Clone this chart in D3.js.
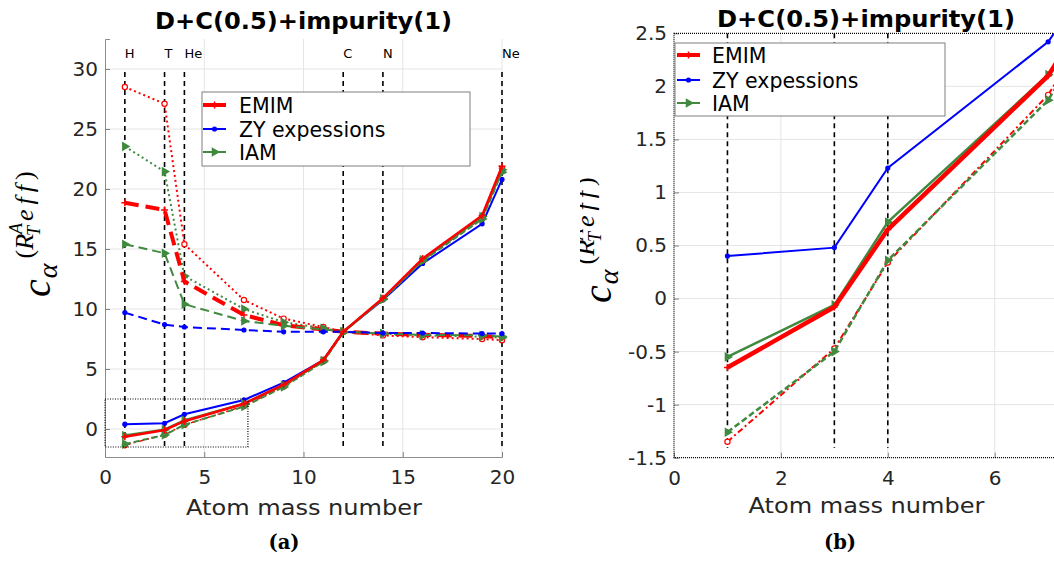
<!DOCTYPE html>
<html lang="en">
<head>
<meta charset="UTF-8">
<title>D+C(0.5)+impurity(1)</title>
<script src="https://cdnjs.cloudflare.com/ajax/libs/d3/7.8.5/d3.min.js"></script>
<style>
  body { margin: 0; background: #fff; }
  svg text { font-family: "DejaVu Sans", sans-serif; fill: #262626; }
</style>
</head>
<body>
<svg id="chart" width="1054" height="562"></svg>
<script>
// atom mass numbers of the impurities
var massNumbers = [1, 3, 4, 7, 9, 11, 12, 14, 16, 19, 20];
var elementLines = [1, 3, 4, 12, 14, 20];
var elementNames = ['H', 'T', 'He', 'C', 'N', 'Ne'];

// lower (increasing) curves
var emimSolid    = [-0.65, -0.08, 0.65, 2.10, 3.70, 5.75, 8.10, 10.90, 14.20, 17.80, 21.90];
var iamSolid     = [-0.55, -0.06, 0.72, 2.11, 3.65, 5.70, 8.10, 10.85, 14.10, 17.70, 21.60];
var zySolid      = [0.40, 0.48, 1.23, 2.42, 3.86, 5.75, 8.10, 10.75, 13.80, 17.10, 20.80];
var emimDashDot  = [-1.35, -0.47, 0.34, 1.92, 3.55, 5.65, 8.10, 10.85, 14.05, 17.60, 21.70];
var iamDashDot   = [-1.26, -0.50, 0.36, 1.87, 3.50, 5.60, 8.05, 10.80, 14.00, 17.50, 21.40];

// upper (decreasing) curves
var emimDashed   = [18.85, 18.25, 12.30, 9.50, 8.65, 8.30, 8.10, 7.95, 7.85, 7.75, 7.65];
var iamDashed    = [15.40, 14.65, 10.40, 9.00, 8.60, 8.30, 8.10, 7.95, 7.85, 7.80, 7.70];
var zyDashed     = [9.70, 8.70, 8.50, 8.25, 8.10, 8.10, 8.10, 8.00, 8.00, 7.95, 7.95];
var emimDotted   = [28.50, 27.10, 15.40, 10.75, 9.20, 8.50, 8.10, 7.80, 7.65, 7.50, 7.40];
var iamDotted    = [23.55, 21.45, 12.75, 10.00, 8.90, 8.40, 8.10, 7.95, 7.80, 7.70, 7.60];

var legendNames = ['EMIM', 'ZY expessions', 'IAM'];
var leftYTicks = [0, 5, 10, 15, 20, 25, 30];
var leftXTicks = [0, 5, 10, 15, 20];
var rightYTicks = [-1.5, -1, -0.5, 0, 0.5, 1, 1.5, 2, 2.5];
var rightXTicks = [0, 2, 4, 6];

var RED = '#ff0000', BLUE = '#0000ff', GREEN = '#3f8a3f';

var series = [
  { values: emimDotted,  color: RED,   w: 2,   wR: 2,   dash: '2,3',       marker: 'circle' },
  { values: iamDotted,   color: GREEN, w: 2,   wR: 2,   dash: '2,3',       marker: 'tri' },
  { values: emimDashed,  color: RED,   w: 4,   wR: 4,   dash: '14,7',      marker: 'plus' },
  { values: iamDashed,   color: GREEN, w: 2,   wR: 2,   dash: '9,5',       marker: 'tri' },
  { values: zyDashed,    color: BLUE,  w: 2,   wR: 2,   dash: '9,5',       marker: 'dot' },
  { values: zySolid,     color: BLUE,  w: 2,   wR: 2,   dash: null,        marker: 'dot' },
  { values: emimDashDot, color: RED,   w: 1.5, wR: 2,   dash: '6,3,2,3',   marker: 'circle' },
  { values: iamDashDot,  color: GREEN, w: 2,   wR: 2.5, dash: '6,3',       marker: 'tri' },
  { values: iamSolid,    color: GREEN, w: 2.5, wR: 2.5, dash: null,        marker: 'tri' },
  { values: emimSolid,   color: RED,   w: 2.5, wR: 4.5, dash: null,        marker: 'plus' }
];

var svg = d3.select('#chart');
var defs = svg.append('defs');

function drawMarker(g, type, px, py, color) {
  if (type === 'circle') {
    g.append('circle').attr('cx', px).attr('cy', py).attr('r', 2.6)
      .attr('fill', '#fff').attr('stroke', color).attr('stroke-width', 1.2);
  } else if (type === 'dot') {
    g.append('circle').attr('cx', px).attr('cy', py).attr('r', 2.6).attr('fill', color);
  } else if (type === 'tri') {
    g.append('path').attr('d', d3.symbol(d3.symbolTriangle, 40)())
      .attr('transform', 'translate(' + px + ',' + py + ') rotate(90)')
      .attr('fill', color);
  } else {
    g.append('path').attr('d', 'M' + (px - 3.5) + ',' + py + 'H' + (px + 3.5) + 'M' + px + ',' + (py - 3.5) + 'V' + (py + 3.5))
      .attr('stroke', color).attr('stroke-width', 1.5);
  }
}

function drawSeries(g, x, y, wideKey) {
  series.forEach(function(s) {
    var pts = massNumbers.map(function(m, i) { return [m, s.values[i]]; });
    var line = d3.line().x(function(d) { return x(d[0]); }).y(function(d) { return y(d[1]); });
    g.append('path').datum(pts)
      .attr('fill', 'none')
      .attr('stroke', s.color)
      .attr('stroke-width', s[wideKey])
      .attr('stroke-dasharray', s.dash)
      .attr('d', line);
    pts.forEach(function(d) { drawMarker(g, s.marker, x(d[0]), y(d[1]), s.color); });
  });
}

function drawLegend(g, bx, by, bw, bh, lineX0, textX, rows) {
  var styles = [
    { color: RED, w: 4, marker: 'plus' },
    { color: BLUE, w: 2, marker: 'dot' },
    { color: GREEN, w: 2, marker: 'tri' }
  ];
  g.append('rect').attr('x', bx).attr('y', by).attr('width', bw).attr('height', bh)
    .attr('fill', '#fff').attr('stroke', '#7f7f7f').attr('stroke-width', 1);
  legendNames.forEach(function(name, i) {
    var cy = by + rows[i];
    g.append('line').attr('x1', lineX0).attr('x2', lineX0 + 23).attr('y1', cy).attr('y2', cy)
      .attr('stroke', styles[i].color).attr('stroke-width', styles[i].w);
    drawMarker(g, styles[i].marker, lineX0 + 11.5, cy, styles[i].color);
    g.append('text').attr('x', textX).attr('y', cy + 7.5)
      .style('font-size', '20.5px').style('fill', '#000').text(name);
  });
}

// LaTeX-like y label: c_alpha^{(R_T^A eff)}
function mathLabel(parent, ox, oy) {
  var g = parent.append('g').attr('transform', 'translate(' + ox + ',' + oy + ') rotate(-90)');
  var pieces = [
    { t: 'c', s: 40, dy: 0, it: true, gap: 0 },
    { t: 'α', s: 28, dy: 7, it: true, gap: 1 },
    { t: '(', s: 26, dy: -17, it: false, gap: 5 },
    { t: 'R', s: 26, dy: -17, it: true, gap: 0 },
    { t: 'A', s: 18, dy: -28, it: true, gap: 0, stack: true },
    { t: 'T', s: 18, dy: -10, it: true, gap: -2 },
    { t: 'e', s: 26, dy: -17, it: true, gap: 4 },
    { t: 'f', s: 26, dy: -17, it: true, gap: 5 },
    { t: 'f', s: 26, dy: -17, it: true, gap: 5 },
    { t: ')', s: 26, dy: -17, it: false, gap: 5 }
  ];
  var cx = 0, stackW = 0;
  pieces.forEach(function(p) {
    cx += p.gap;
    var t = g.append('text').attr('x', cx).attr('y', p.dy)
      .style('font-family', '"Liberation Serif", serif')
      .style('font-style', p.it ? 'italic' : 'normal')
      .style('font-size', p.s + 'px').style('fill', '#000').text(p.t);
    var w = t.node().getComputedTextLength();
    if (p.stack) { stackW = w; }
    else { cx += Math.max(w, stackW); stackW = 0; }
  });
}

function gridAndAxes(g, x, y, xTicks, yTicks, xGrid, yGrid, fmtY) {
  var grid = g.append('g');
  xGrid.forEach(function(v) {
    grid.append('line').attr('x1', x(v)).attr('x2', x(v)).attr('y1', y.range()[0]).attr('y2', y.range()[1])
      .attr('stroke', '#e5e5e5').attr('stroke-width', 1);
  });
  yGrid.forEach(function(v) {
    grid.append('line').attr('x1', x.range()[0]).attr('x2', x.range()[1]).attr('y1', y(v)).attr('y2', y(v))
      .attr('stroke', '#e5e5e5').attr('stroke-width', 1);
  });
  var ax = g.append('g').attr('transform', 'translate(' + x.range()[0] + ',0)')
    .call(d3.axisLeft(y).tickValues(yTicks).tickSize(-5).tickPadding(7).tickFormat(fmtY));
  var bx = g.append('g').attr('transform', 'translate(0,' + y.range()[0] + ')')
    .call(d3.axisBottom(x).tickValues(xTicks).tickSize(-5).tickPadding(13).tickFormat(d3.format('d')));
  [ax, bx].forEach(function(a) {
    a.selectAll('text').style('font-size', '20px').style('font-family', '"DejaVu Sans", sans-serif').style('fill', '#262626');
    a.selectAll('.tick line').attr('stroke', '#7f7f7f');
    a.select('.domain').attr('stroke', '#8c8c8c');
  });
  return [ax, bx];
}

// ---------- panel (a) ----------
var xL = d3.scaleLinear().domain([0, 20]).range([105, 502]);
var yL = d3.scaleLinear().domain([-28 / 12, 32.5]).range([457, 39]);
var gL = svg.append('g');

gridAndAxes(gL, xL, yL, leftXTicks, leftYTicks, [5, 10, 15, 20], leftYTicks, d3.format('d'));

elementLines.forEach(function(m, i) {
  gL.append('line').attr('x1', xL(m)).attr('x2', xL(m)).attr('y1', 72).attr('y2', 448)
    .attr('stroke', '#000').attr('stroke-width', 1.6).attr('stroke-dasharray', '5,4');
  gL.append('text').attr('x', xL(m)).attr('y', 58).style('font-size', '13px').style('fill', '#000')
    .text(elementNames[i]);
});

drawSeries(gL, xL, yL, 'w');

// zoom box
gL.append('rect').attr('x', xL(0)).attr('y', yL(2.5)).attr('width', xL(7.2) - xL(0)).attr('height', yL(-1.5) - yL(2.5))
  .attr('fill', 'none').attr('stroke', '#000').attr('stroke-width', 1.2).attr('stroke-dasharray', '1,1.5');

drawLegend(gL, 202, 92, 268, 74, 203, 239, [13, 37, 60]);

gL.append('text').attr('x', 303.5).attr('y', 28.5).attr('text-anchor', 'middle')
  .attr('textLength', 297).attr('lengthAdjust', 'spacingAndGlyphs')
  .style('font-size', '22.5px').style('font-weight', 'bold').style('fill', '#000').text('D+C(0.5)+impurity(1)');
gL.append('text').attr('x', 304).attr('y', 515).attr('text-anchor', 'middle')
  .attr('textLength', 236).attr('lengthAdjust', 'spacingAndGlyphs')
  .style('font-size', '21px').text('Atom mass number');
gL.append('text').attr('x', 284).attr('y', 549).attr('text-anchor', 'middle')
  .style('font-family', '"DejaVu Serif", serif').style('font-weight', 'bold').style('font-size', '19.5px').style('fill', '#000')
  .text('(a)');
mathLabel(gL, 50, 297);

// ---------- panel (b) ----------
var xR = d3.scaleLinear().domain([0, 7.2]).range([674, 674 + 7.2 * 53.45]);
var yR = d3.scaleLinear().domain([-1.5, 2.5]).range([457.7, 33.3]);

defs.append('clipPath').attr('id', 'clipPlotR').append('rect')
  .attr('x', xR.range()[0]).attr('y', yR.range()[1])
  .attr('width', xR.range()[1] - xR.range()[0]).attr('height', yR.range()[0] - yR.range()[1]);
defs.append('clipPath').attr('id', 'clipFigR').append('rect')
  .attr('x', 580).attr('y', 0).attr('width', 474).attr('height', 562);

var gR = svg.append('g').attr('clip-path', 'url(#clipFigR)');

var axesR = gridAndAxes(gR, xR, yR, rightXTicks, rightYTicks, [2, 4, 6], [-1, -0.5, 0, 0.5, 1, 1.5, 2],
  function(d) { return String(d); });
axesR[0].select('.domain').remove();
axesR[1].select('.domain').remove();

var plotR = gR.append('g').attr('clip-path', 'url(#clipPlotR)');
[1, 3, 4].forEach(function(m) {
  plotR.append('line').attr('x1', xR(m)).attr('x2', xR(m)).attr('y1', yR(2.5)).attr('y2', 448)
    .attr('stroke', '#000').attr('stroke-width', 1.6).attr('stroke-dasharray', '5,4');
});
drawSeries(plotR, xR, yR, 'wR');

gR.append('rect').attr('x', xR.range()[0]).attr('y', yR.range()[1])
  .attr('width', xR.range()[1] - xR.range()[0]).attr('height', yR.range()[0] - yR.range()[1])
  .attr('fill', 'none').attr('stroke', '#000').attr('stroke-width', 1.2).attr('stroke-dasharray', '1,1');

drawLegend(gR, 675, 43, 270, 73, 677, 712, [12, 37, 60]);

gR.append('text').attr('x', 866).attr('y', 26.5).attr('text-anchor', 'middle')
  .attr('textLength', 298).attr('lengthAdjust', 'spacingAndGlyphs')
  .style('font-size', '22.5px').style('font-weight', 'bold').style('fill', '#000').text('D+C(0.5)+impurity(1)');
gR.append('text').attr('x', 866.5).attr('y', 513).attr('text-anchor', 'middle')
  .attr('textLength', 236).attr('lengthAdjust', 'spacingAndGlyphs')
  .style('font-size', '21px').text('Atom mass number');
gR.append('text').attr('x', 840).attr('y', 549).attr('text-anchor', 'middle')
  .style('font-family', '"DejaVu Serif", serif').style('font-weight', 'bold').style('font-size', '19.5px').style('fill', '#000')
  .text('(b)');
mathLabel(gR, 611, 303);
</script>
</body>
</html>
